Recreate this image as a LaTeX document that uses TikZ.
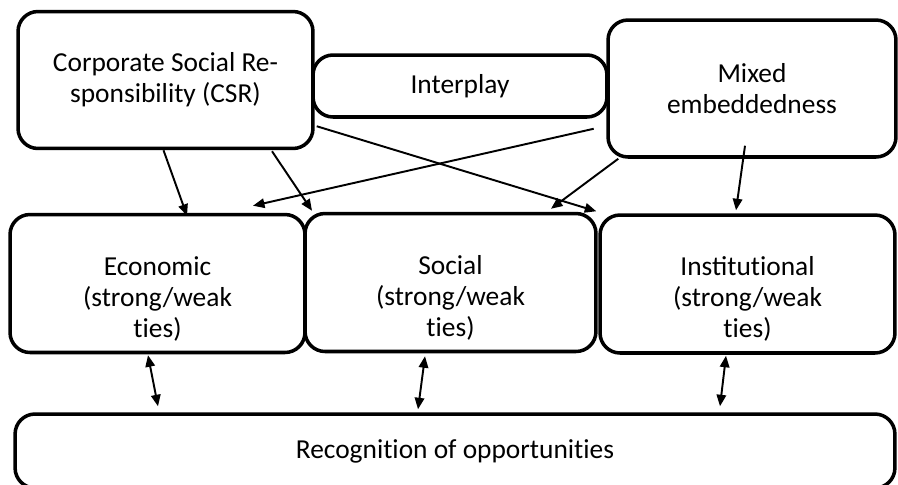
\documentclass[tikz,border=0pt]{standalone}
\usepackage{fontspec}
\setmainfont{Carlito}
\newcommand{\brk}{\kern0pt}% keeps "t" and "i" apart
\usetikzlibrary{calc,arrows.meta}

\begin{document}
\begin{tikzpicture}[x=0.02cm, y=-0.02cm, >={Triangle[length=2.3mm,width=1.9mm]},
    box/.style={draw, line width=2pt, rounded corners=0.4cm, align=center,
      inner sep=0pt, font=\fontsize{15.6}{17.6}\selectfont},
    tiebox/.style={box, minimum height=2.76cm},
    link/.style={->, line width=1.1pt},
    both/.style={<->, line width=1.1pt}]
  \useasboundingbox (0,0) rectangle (898,484);
  % Top row
  \node[box, minimum width=5.9cm, minimum height=2.74cm] (csr) at (165.5,80)
    {Corporate Social Re-\\sponsibility (CSR)};
  \node[box, minimum width=5.88cm, minimum height=1.24cm] (inter) at (460,86) {Interplay};
  \node[box, minimum width=5.76cm, minimum height=2.74cm] (mixed) at (752,88.5)
    {Mixed\\embeddedness};
  % Middle row
  \node[tiebox, minimum width=5.9cm] (eco) at (157.5,283.5)
    {\rule{0pt}{28pt}Economic\\(strong/weak\\t\brk ies)};
  \node[tiebox, minimum width=5.82cm] (soc) at (450.5,282.5)
    {\rule{0pt}{28pt}Social\\(strong/weak\\t\brk ies)};
  \node[tiebox, minimum width=5.9cm] (inst) at (747.5,284)
    {\rule{0pt}{28pt}Institut\brk ional\\(strong/weak\\t\brk ies)};
  % Bottom box (runs off the page)
  \node[box, minimum width=17.6cm, minimum height=1.48cm] (rec) at (455,451)
    {Recognit\brk ion of opportunit\brk ies};
  % Arrows from the top row
  \draw[link] ($(csr.south)+(-2,0)$) -- ($(eco.north)+(29.5,3)$);
  \draw[link] ($(csr.south)+(106.5,1)$) -- ($(soc.north)+(-138.5,-1)$);
  \draw[link] ($(csr.south east)+(2,-24)$) -- ($(inst.north west)+(-2,-2)$);
  \draw[link] ($(inter.south east)+(-15,10)$) -- ($(eco.north)+(95.5,-7)$);
  \draw[link] ($(mixed.south west)+(12,0)$) -- ($(soc.north)+(100.5,-3)$);
  \draw[link] ($(mixed.south)+(-7,-13)$) -- ($(inst.north)+(-11.5,-3)$);
  % Two-way arrows to the bottom box
  \draw[both] ($(eco.south)+(-9.5,1)$) -- ($(rec.north)+(-297,-6)$);
  \draw[both] ($(soc.south)+(-25.5,3)$) -- ($(rec.north)+(-37,-3)$);
  \draw[both] ($(inst.south)+(-21.5,1)$) -- ($(rec.north)+(265,-6)$);
\end{tikzpicture}
\end{document}
